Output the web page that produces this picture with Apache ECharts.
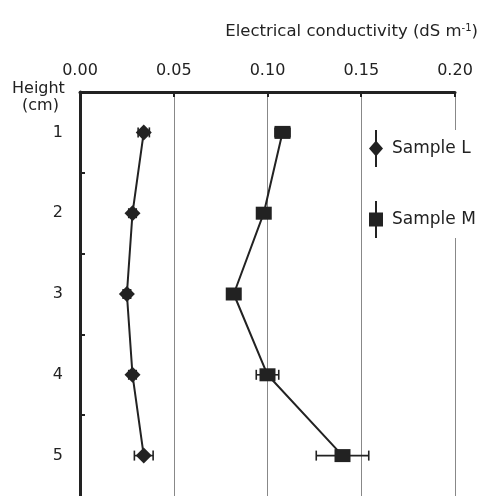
<!DOCTYPE html>
<html>
<head>
<meta charset="utf-8">
<script src="https://cdn.jsdelivr.net/npm/echarts@6/dist/echarts.min.js"></script>
<style>
  html, body { margin: 0; padding: 0; background: #fff; }
  #chart { width: 487px; height: 496px; }
</style>
</head>
<body>
<div id="chart"></div>
<script>
// heights (cm)
const heights = [1, 2, 3, 4, 5];
// electrical conductivity, dS m-1
const sampleL = [0.034, 0.028, 0.025, 0.028, 0.034];
const sampleM = [0.108, 0.098, 0.082, 0.100, 0.140];
// error bars (+/-)
const errL = [0.003, 0.002, 0.002, 0.002, 0.005];
const errM = [0.004, 0.002, 0.002, 0.006, 0.014];

const FONT = 'DejaVu Sans';
const chart = echarts.init(document.getElementById('chart'), null, { renderer: 'canvas' });

function errBars(vals, errs) {
  return heights.map((h, i) => [vals[i], h, errs[i]]);
}

function renderErr(params, api) {
  const x = api.value(0), y = api.value(1), e = api.value(2);
  const a = api.coord([x - e, y]);
  const b = api.coord([x + e, y]);
  const cap = 5;
  const st = { stroke: '#222', lineWidth: 1.6 };
  return {
    type: 'group',
    children: [
      { type: 'line', shape: { x1: a[0], y1: a[1], x2: b[0], y2: b[1] }, style: st },
      { type: 'line', shape: { x1: a[0], y1: a[1] - cap, x2: a[0], y2: a[1] + cap }, style: st },
      { type: 'line', shape: { x1: b[0], y1: b[1] - cap, x2: b[0], y2: b[1] + cap }, style: st }
    ]
  };
}

const option = {
  backgroundColor: '#fff',
  animation: false,
  textStyle: { fontFamily: FONT },
  title: {
    text: 'Electrical conductivity (dS m{sup|-1})',
    right: 4,
    top: 18,
    textStyle: {
      fontFamily: FONT, fontSize: 16.5, fontWeight: 'normal', color: '#222',
      rich: { sup: { fontFamily: FONT, fontSize: 10, verticalAlign: 'top', padding: [0, 0, 8, 0], color: '#222' } }
    }
  },
  graphic: [
    { type: 'text', left: 12, top: 81, style: { text: 'Height', font: '16px "DejaVu Sans"', fill: '#222' } },
    { type: 'text', left: 22, top: 98, style: { text: '(cm)', font: '16px "DejaVu Sans"', fill: '#222' } }
  ],
  legend: {
    orient: 'vertical',
    left: 369,
    top: 130,
    padding: [0, 6, 0, 0],
    backgroundColor: '#fff',
    itemWidth: 14,
    itemHeight: 37,
    itemGap: 34,
    data: [
      { name: 'Sample L', icon: 'path://M6,0h2v37h-2zM0,18.5L7,10.5L14,18.5L7,26.5z' },
      { name: 'Sample M', icon: 'path://M6,0h2v37h-2zM0,11.5h14v14h-14z' }
    ],
    textStyle: { fontFamily: FONT, fontSize: 17, color: '#222', padding: [0, 0, 0, 4] },
    itemStyle: { color: '#222' }
  },
  grid: { left: 80, right: 32, top: 92, bottom: -2 },
  xAxis: {
    type: 'value',
    position: 'top',
    min: 0,
    max: 0.2,
    interval: 0.05,
    axisLine: { show: true, lineStyle: { color: '#222', width: 3 } },
    axisTick: { show: true, inside: true, length: 5, lineStyle: { color: '#222', width: 2 } },
    axisLabel: {
      margin: 13, fontFamily: FONT, fontSize: 16, color: '#222',
      formatter: v => v.toFixed(2)
    },
    splitLine: { show: true, lineStyle: { color: '#888', width: 1 } }
  },
  yAxis: {
    type: 'value',
    inverse: true,
    min: 0.5,
    max: 5.5,
    axisLine: { show: true, lineStyle: { color: '#222', width: 3 } },
    axisTick: { show: true, inside: true, length: 5, customValues: [1.5, 2.5, 3.5, 4.5], lineStyle: { color: '#222', width: 2 } },
    axisLabel: { margin: 17, fontFamily: FONT, fontSize: 16, color: '#222', customValues: heights },
    splitLine: { show: false }
  },
  series: [
    {
      name: 'Sample L-err', type: 'custom', renderItem: renderErr,
      data: errBars(sampleL, errL), z: 3, silent: true
    },
    {
      name: 'Sample M-err', type: 'custom', renderItem: renderErr,
      data: errBars(sampleM, errM), z: 3, silent: true
    },
    {
      name: 'Sample L', type: 'line',
      data: heights.map((h, i) => [sampleL[i], h]),
      symbol: 'diamond', symbolSize: 16,
      lineStyle: { color: '#222', width: 2 },
      itemStyle: { color: '#222' }, z: 4
    },
    {
      name: 'Sample M', type: 'line',
      data: heights.map((h, i) => [sampleM[i], h]),
      symbol: 'rect', symbolSize: [16, 13],
      lineStyle: { color: '#222', width: 2 },
      itemStyle: { color: '#222' }, z: 4
    }
  ]
};

chart.setOption(option);
</script>
</body>
</html>
